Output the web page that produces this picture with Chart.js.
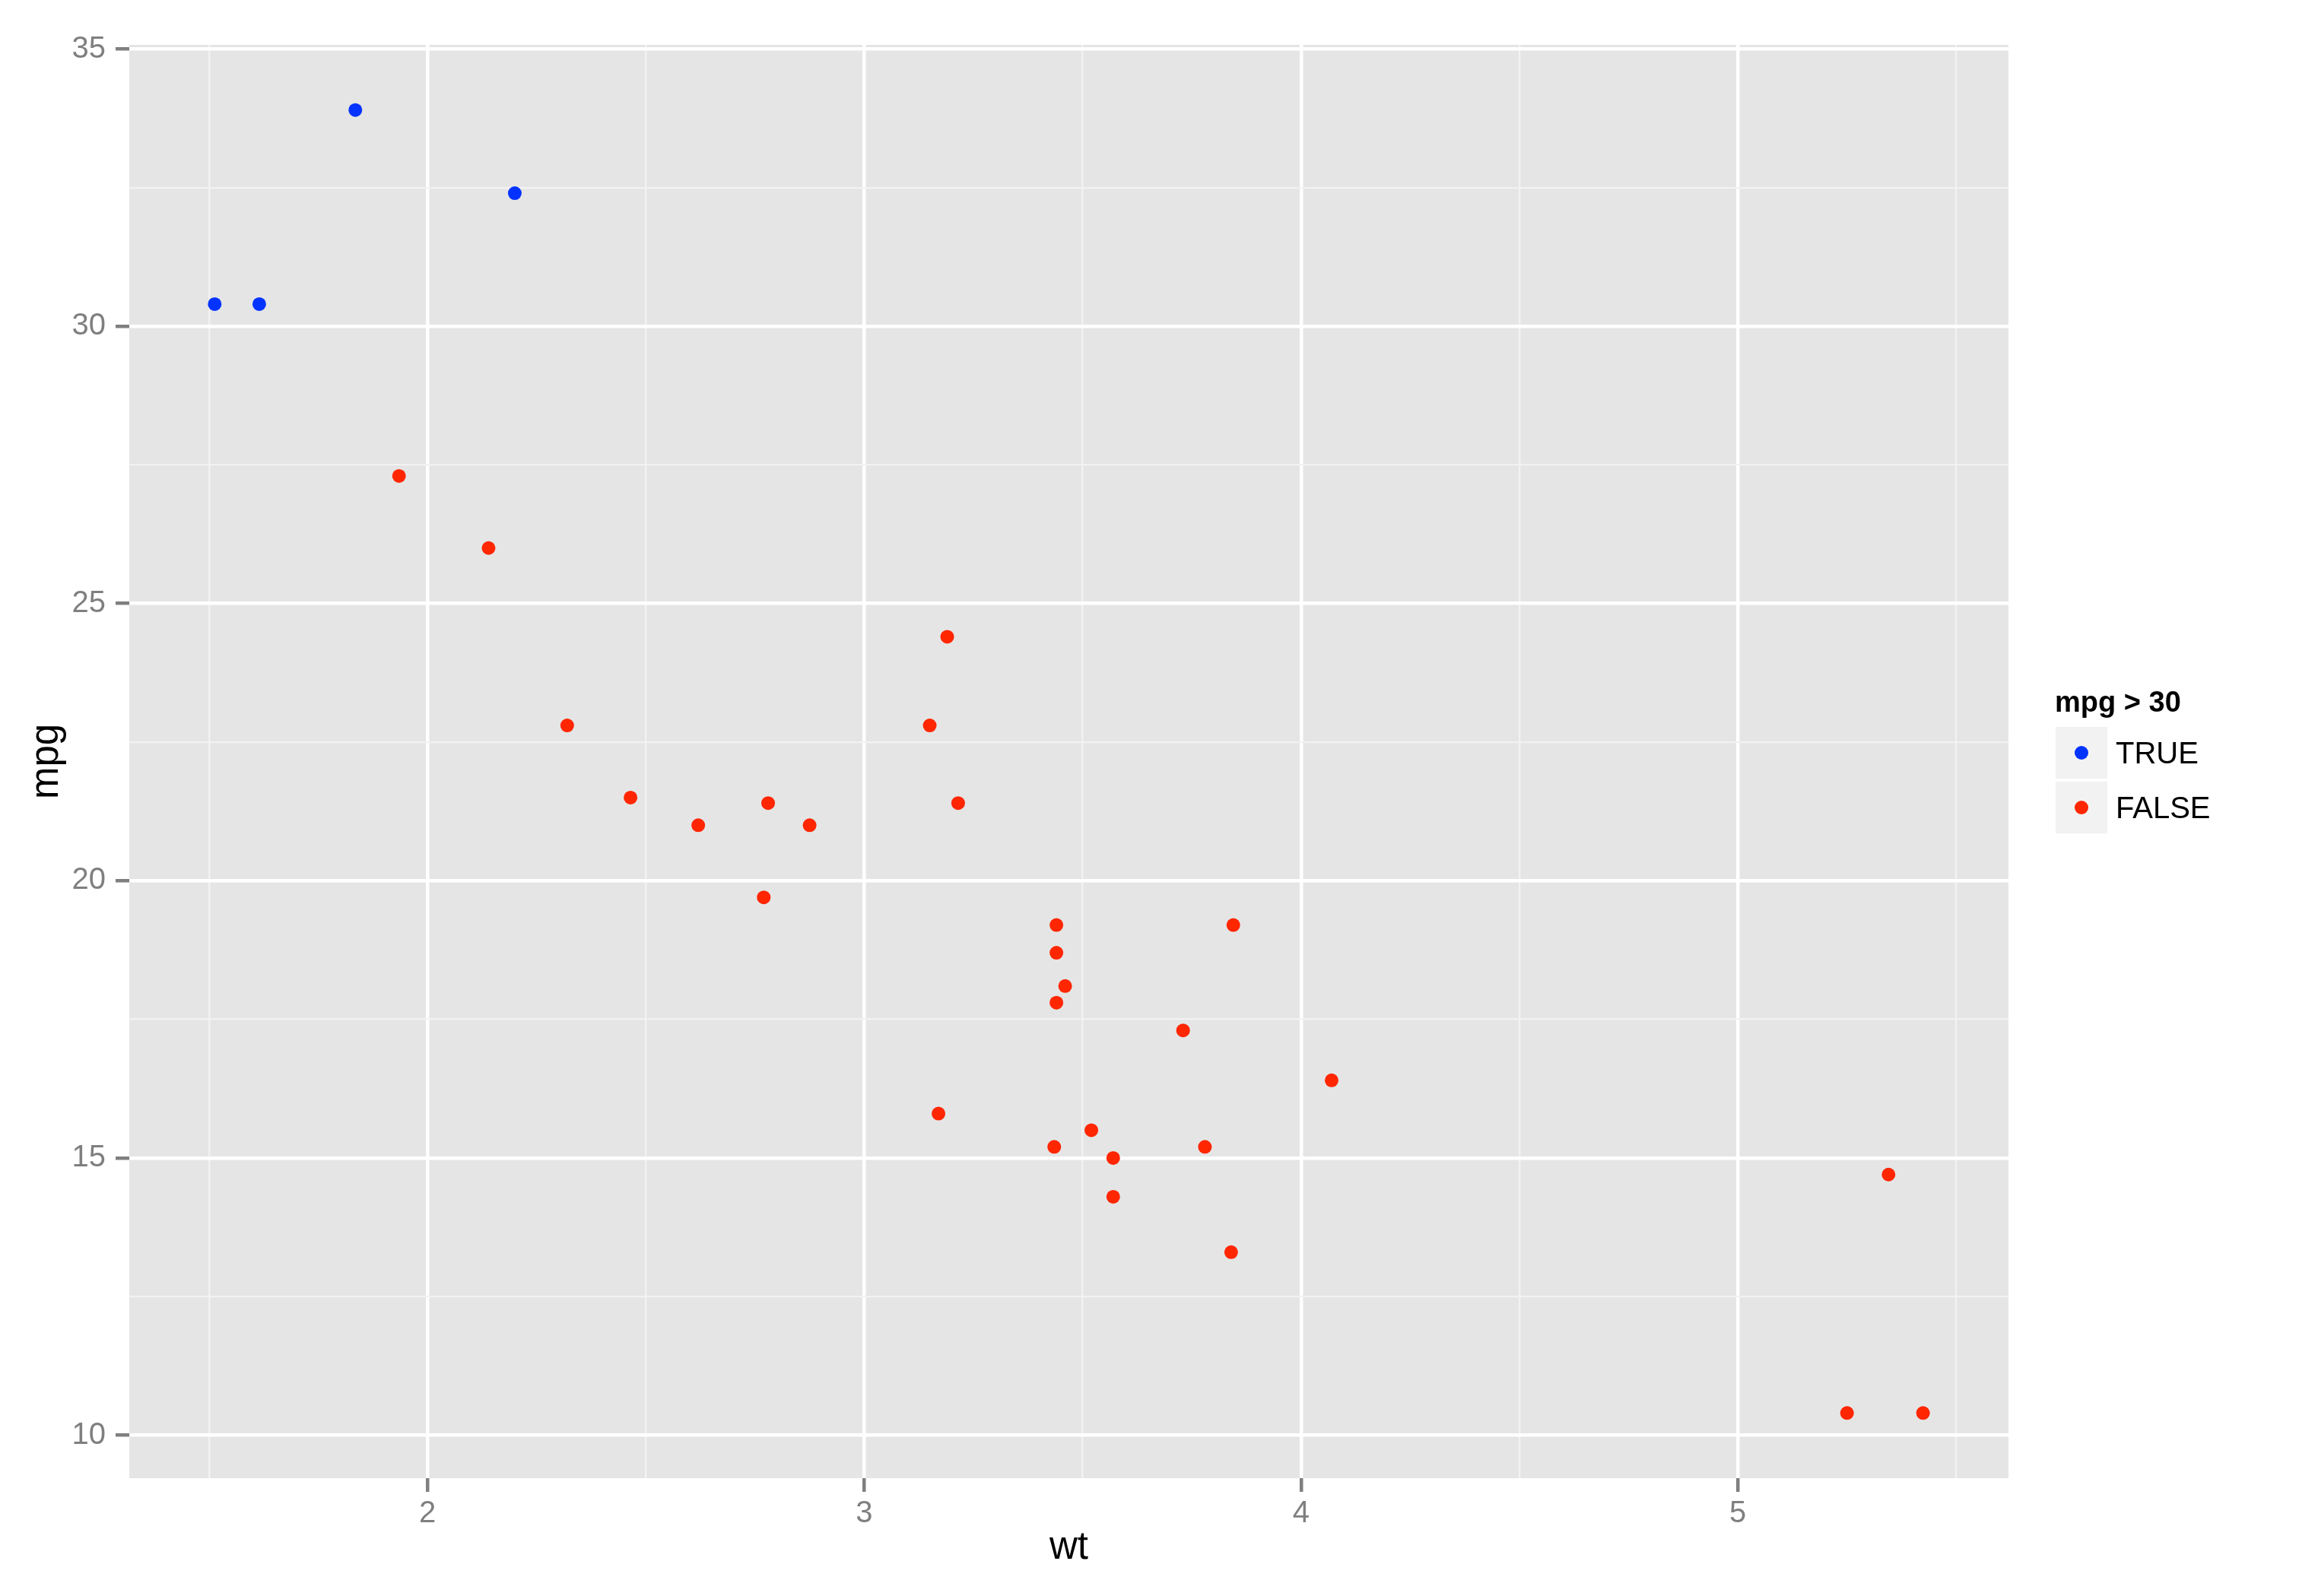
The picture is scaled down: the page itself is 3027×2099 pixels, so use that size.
<!DOCTYPE html>
<html>
<head>
<meta charset="utf-8">
<script src="https://cdn.jsdelivr.net/npm/chart.js@4.4.0/dist/chart.umd.min.js"></script>
<style>
  html, body { margin: 0; padding: 0; background: #fff; overflow: hidden; }
  canvas { display: block; }
</style>
</head>
<body>
<canvas id="chart" width="3027" height="2099"></canvas>
<script>
// mtcars: weight (1000 lbs) against miles per gallon
const wt = [2.620, 2.875, 2.320, 3.215, 3.440, 3.460, 3.570, 3.190, 3.150, 3.440, 3.440,
  4.070, 3.730, 3.780, 5.250, 5.424, 5.345, 2.200, 1.615, 1.835, 2.465, 3.520,
  3.435, 3.840, 3.845, 1.935, 2.140, 1.513, 3.170, 2.770, 3.570, 2.780];
const mpg = [21.0, 21.0, 22.8, 21.4, 18.7, 18.1, 14.3, 24.4, 22.8, 19.2, 17.8,
  16.4, 17.3, 15.2, 10.4, 10.4, 14.7, 32.4, 30.4, 33.9, 21.5, 15.5,
  15.2, 13.3, 19.2, 27.3, 26.0, 30.4, 15.8, 19.7, 15.0, 21.4];

const legendTitle = 'mpg > 30';
const groupLabels = ['TRUE', 'FALSE'];
const groupColors = ['#0433ff', '#ff2600'];

const xMajorTicks = [2, 3, 4, 5];
const xMinorTicks = [1.5, 2.5, 3.5, 4.5, 5.5];
const yMajorTicks = [10, 15, 20, 25, 30, 35];
const yMinorTicks = [12.5, 17.5, 22.5, 27.5, 32.5];

const FONT = '"Liberation Sans", Arial, Helvetica, sans-serif';

// ggplot style 5% expansion of the data range
function expanded(values) {
  const lo = Math.min(...values), hi = Math.max(...values);
  const pad = (hi - lo) * 0.05;
  return { min: lo - pad, max: hi + pad };
}
const xRange = expanded(wt);
const yRange = expanded(mpg);

const points = wt.map((w, i) => ({ x: w, y: mpg[i] }));
const groups = [
  points.filter(p => p.y > 30),
  points.filter(p => !(p.y > 30))
];

const datasets = groupLabels.map((label, i) => ({
  label: label,
  data: groups[i],
  backgroundColor: groupColors[i],
  borderWidth: 0,
  pointRadius: 9,
  pointHoverRadius: 9,
}));

function setTicks(major, minor) {
  return (scale) => {
    scale.ticks = [...minor, ...major].sort((a, b) => a - b).map(v => ({ value: v }));
  };
}

function gridFor(major) {
  return {
    color: (c) => major.includes(c.tick.value) ? '#ffffff' : '#f2f2f2',
    lineWidth: (c) => major.includes(c.tick.value) ? 4.5 : 2.3,
    tickColor: (c) => major.includes(c.tick.value) ? '#7f7f7f' : 'rgba(0,0,0,0)',
    tickWidth: 4.5,
    tickLength: 18,
    drawTicks: true,
  };
}

const panelBackground = {
  id: 'panelBackground',
  beforeDraw(chart) {
    const { ctx, chartArea } = chart;
    ctx.save();
    ctx.fillStyle = '#ffffff';
    ctx.fillRect(0, 0, chart.width, chart.height);
    ctx.fillStyle = '#e5e5e5';
    ctx.fillRect(chartArea.left, chartArea.top, chartArea.right - chartArea.left, chartArea.bottom - chartArea.top);
    ctx.restore();
  }
};

const ggLegend = {
  id: 'ggLegend',
  afterDraw(chart) {
    const { ctx, chartArea } = chart;
    const x0 = chartArea.right + 61;
    ctx.save();
    ctx.textAlign = 'left';
    ctx.textBaseline = 'alphabetic';
    ctx.fillStyle = '#000000';
    ctx.font = 'bold 38px ' + FONT;
    ctx.fillText(legendTitle, x0, 936);
    groupLabels.forEach((label, i) => {
      const top = 956 + i * 72;
      ctx.fillStyle = '#f2f2f2';
      ctx.fillRect(x0 + 1, top, 68, 68);
      ctx.fillStyle = groupColors[i];
      ctx.beginPath();
      ctx.arc(x0 + 35, top + 34, 9, 0, Math.PI * 2);
      ctx.fill();
      ctx.fillStyle = '#000000';
      ctx.font = '40px ' + FONT;
      ctx.fillText(label, x0 + 80, top + 48);
    });
    ctx.restore();
  }
};

new Chart(document.getElementById('chart'), {
  type: 'scatter',
  data: { datasets: datasets },
  plugins: [panelBackground, ggLegend],
  options: {
    responsive: false,
    devicePixelRatio: 1,
    animation: false,
    layout: { padding: { top: 59, right: 386, bottom: 0, left: 0 } },
    plugins: {
      legend: { display: false },
      tooltip: { enabled: false },
    },
    scales: {
      x: {
        type: 'linear',
        min: xRange.min,
        max: xRange.max,
        afterBuildTicks: setTicks(xMajorTicks, xMinorTicks),
        afterFit: (scale) => { scale.height = 155; },
        grid: gridFor(xMajorTicks),
        border: { display: false },
        ticks: {
          autoSkip: false,
          maxRotation: 0,
          padding: 9,
          color: '#7f7f7f',
          font: { family: FONT, size: 40, lineHeight: 1 },
          callback: (v) => xMajorTicks.includes(v) ? String(v) : '',
        },
        title: {
          display: true,
          text: 'wt',
          color: '#000000',
          font: { family: FONT, size: 51, lineHeight: 1 },
          padding: { top: 0, bottom: 38 },
        },
      },
      y: {
        type: 'linear',
        min: yRange.min,
        max: yRange.max,
        afterBuildTicks: setTicks(yMajorTicks, yMinorTicks),
        afterFit: (scale) => { scale.width = 170; },
        grid: gridFor(yMajorTicks),
        border: { display: false },
        ticks: {
          autoSkip: false,
          padding: 13,
          color: '#7f7f7f',
          font: { family: FONT, size: 40, lineHeight: 1 },
          callback: (v) => yMajorTicks.includes(v) ? String(v) : '',
        },
        title: {
          display: true,
          text: 'mpg',
          color: '#000000',
          font: { family: FONT, size: 51, lineHeight: 1 },
          padding: { top: 36, bottom: 0 },
        },
      },
    },
  },
});
</script>
</body>
</html>
